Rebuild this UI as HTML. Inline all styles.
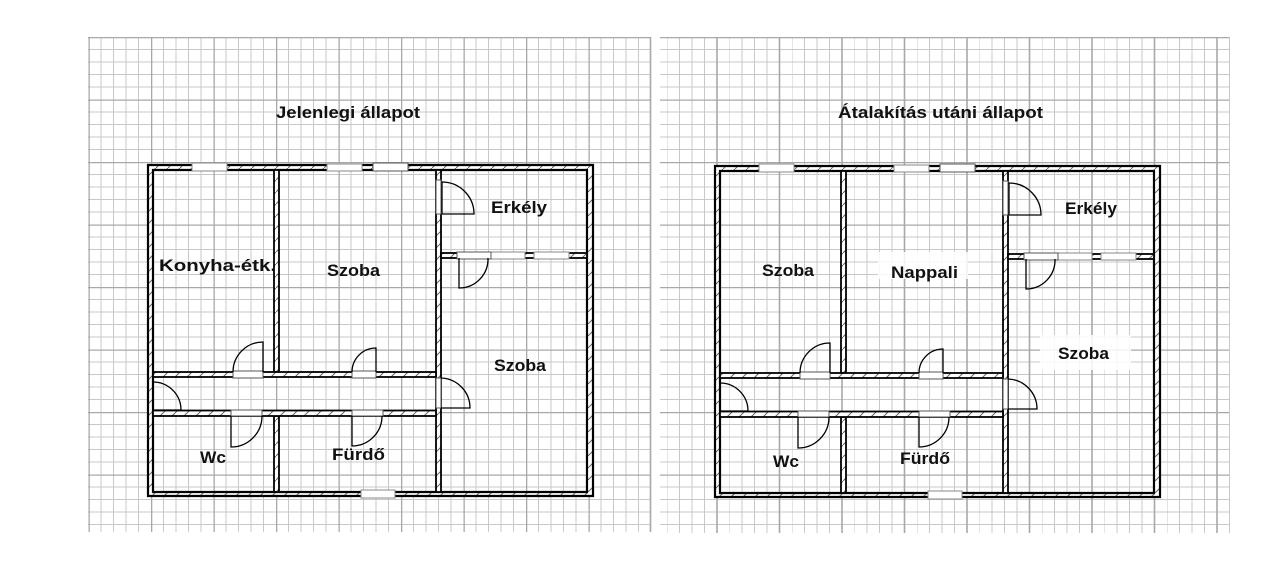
<!DOCTYPE html>
<html><head><meta charset="utf-8"><style>
html,body{margin:0;padding:0;background:#fff;}
svg{display:block;}
text{font-family:"Liberation Sans",Arial,sans-serif;font-weight:bold;fill:#111;}
</style></head><body>
<svg width="1265" height="576" viewBox="0 0 1265 576" xmlns="http://www.w3.org/2000/svg">
<defs>
<pattern id="gl" x="88.5" y="37" width="62.5" height="62.5" patternUnits="userSpaceOnUse">
<path d="M12.5 0V62.5M25 0V62.5M37.5 0V62.5M50 0V62.5M0 12.5H62.5M0 25H62.5M0 37.5H62.5M0 50H62.5" stroke="#c8c8c8" stroke-width="1" fill="none"/>
<path d="M0.5 0V62.5M0 0.5H62.5" stroke="#a8a8a8" stroke-width="1.6" fill="none"/>
</pattern>
<pattern id="gr" x="667" y="37" width="62.5" height="62.5" patternUnits="userSpaceOnUse">
<path d="M0 0V62.5M12.5 0V62.5M25 0V62.5M37.5 0V62.5M0 12.5H62.5M0 25H62.5M0 37.5H62.5M0 50H62.5" stroke="#c8c8c8" stroke-width="1" fill="none"/>
<path d="M50 0V62.5M0 0.5H62.5" stroke="#a8a8a8" stroke-width="1.6" fill="none"/>
</pattern>
<pattern id="h" width="12" height="12" patternUnits="userSpaceOnUse">
<rect width="12" height="12" fill="#fff"/>
<path d="M-1 13L13 -1" stroke="#666" stroke-width="1"/>
</pattern>
<g id="plan">
<path d="M148 165H593V496H148Z M153 170V492H587V170Z" fill="url(#h)" fill-rule="evenodd" stroke="#000" stroke-width="2.2"/>
<g fill="url(#h)" stroke="#000" stroke-width="1.8">
<rect x="274" y="170" width="5" height="202"/>
<rect x="274" y="416" width="5" height="76"/>
<rect x="436" y="170" width="5" height="322"/>
<rect x="441" y="253" width="146" height="5"/>
<rect x="153" y="372" width="283" height="5"/>
<rect x="153" y="410.5" width="283" height="5.5"/>
</g>
<g fill="#fff" stroke="#888" stroke-width="1">
<rect x="192" y="163" width="35" height="8"/>
<rect x="327" y="164" width="35" height="7"/>
<rect x="373" y="163" width="35" height="8" stroke="#555"/>
<rect x="491" y="252" width="34" height="7"/>
<rect x="534" y="252" width="35" height="7"/>
<rect x="361" y="490" width="34" height="8"/>
</g>
<g fill="#fff" stroke="#555" stroke-width="1">
<rect x="436" y="180" width="5" height="34"/>
<rect x="457" y="252" width="34" height="7"/>
<rect x="233" y="371" width="30" height="7"/>
<rect x="352" y="371" width="24" height="7"/>
<rect x="436" y="378" width="5" height="30"/>
<rect x="231" y="410" width="31" height="6"/>
<rect x="352" y="410" width="31" height="6"/>
</g>
<g fill="none" stroke="#000" stroke-width="1.3">
<path d="M442 214V182A32 32 0 0 1 474 214H442"/>
<path d="M459 258V288A29 29 0 0 0 488 258"/>
<path d="M263 372V342A30 30 0 0 0 233 372"/>
<path d="M376 372V348A24 24 0 0 0 352 372"/>
<path d="M153 410H181A28 28 0 0 0 153 382"/>
<path d="M441 408H470A30 30 0 0 0 441 378"/>
<path d="M231 416V447A31 31 0 0 0 262 416"/>
<path d="M352 416V446A30 30 0 0 0 382 416"/>
</g>
</g>
</defs>
<rect x="88" y="37" width="563" height="495" fill="url(#gl)"/>
<path d="M650.5 37V532" stroke="#a8a8a8" stroke-width="1.6"/>
<rect x="660" y="37" width="570" height="496" fill="url(#gr)"/>
<path d="M1229.5 37V533" stroke="#c8c8c8" stroke-width="1"/>

<use href="#plan"/>
<use href="#plan" transform="translate(567,1)"/>

<rect x="878" y="252" width="90" height="27" fill="#fff" opacity="0.85"/>
<rect x="1040" y="335" width="91" height="35" fill="#fff" opacity="0.85"/>

<g font-size="16.5">
<text x="276" y="118" textLength="144" lengthAdjust="spacingAndGlyphs">Jelenlegi állapot</text>
<text x="838" y="118" textLength="205" lengthAdjust="spacingAndGlyphs">Átalakítás utáni állapot</text>
<text x="159" y="271" textLength="117" lengthAdjust="spacingAndGlyphs">Konyha-étk.</text>
<text x="327" y="276" textLength="53" lengthAdjust="spacingAndGlyphs">Szoba</text>
<text x="491" y="213" textLength="56" lengthAdjust="spacingAndGlyphs">Erkély</text>
<text x="494" y="371" textLength="52" lengthAdjust="spacingAndGlyphs">Szoba</text>
<text x="200" y="463" textLength="26" lengthAdjust="spacingAndGlyphs">Wc</text>
<text x="332" y="460" textLength="53" lengthAdjust="spacingAndGlyphs">Fürdő</text>
<text x="762" y="276" textLength="52" lengthAdjust="spacingAndGlyphs">Szoba</text>
<text x="891" y="278" textLength="67" lengthAdjust="spacingAndGlyphs">Nappali</text>
<text x="1065" y="214" textLength="52" lengthAdjust="spacingAndGlyphs">Erkély</text>
<text x="1058" y="359" textLength="51" lengthAdjust="spacingAndGlyphs">Szoba</text>
<text x="773" y="467" textLength="26" lengthAdjust="spacingAndGlyphs">Wc</text>
<text x="900" y="464" textLength="50" lengthAdjust="spacingAndGlyphs">Fürdő</text>
</g>
</svg>
</body></html>
